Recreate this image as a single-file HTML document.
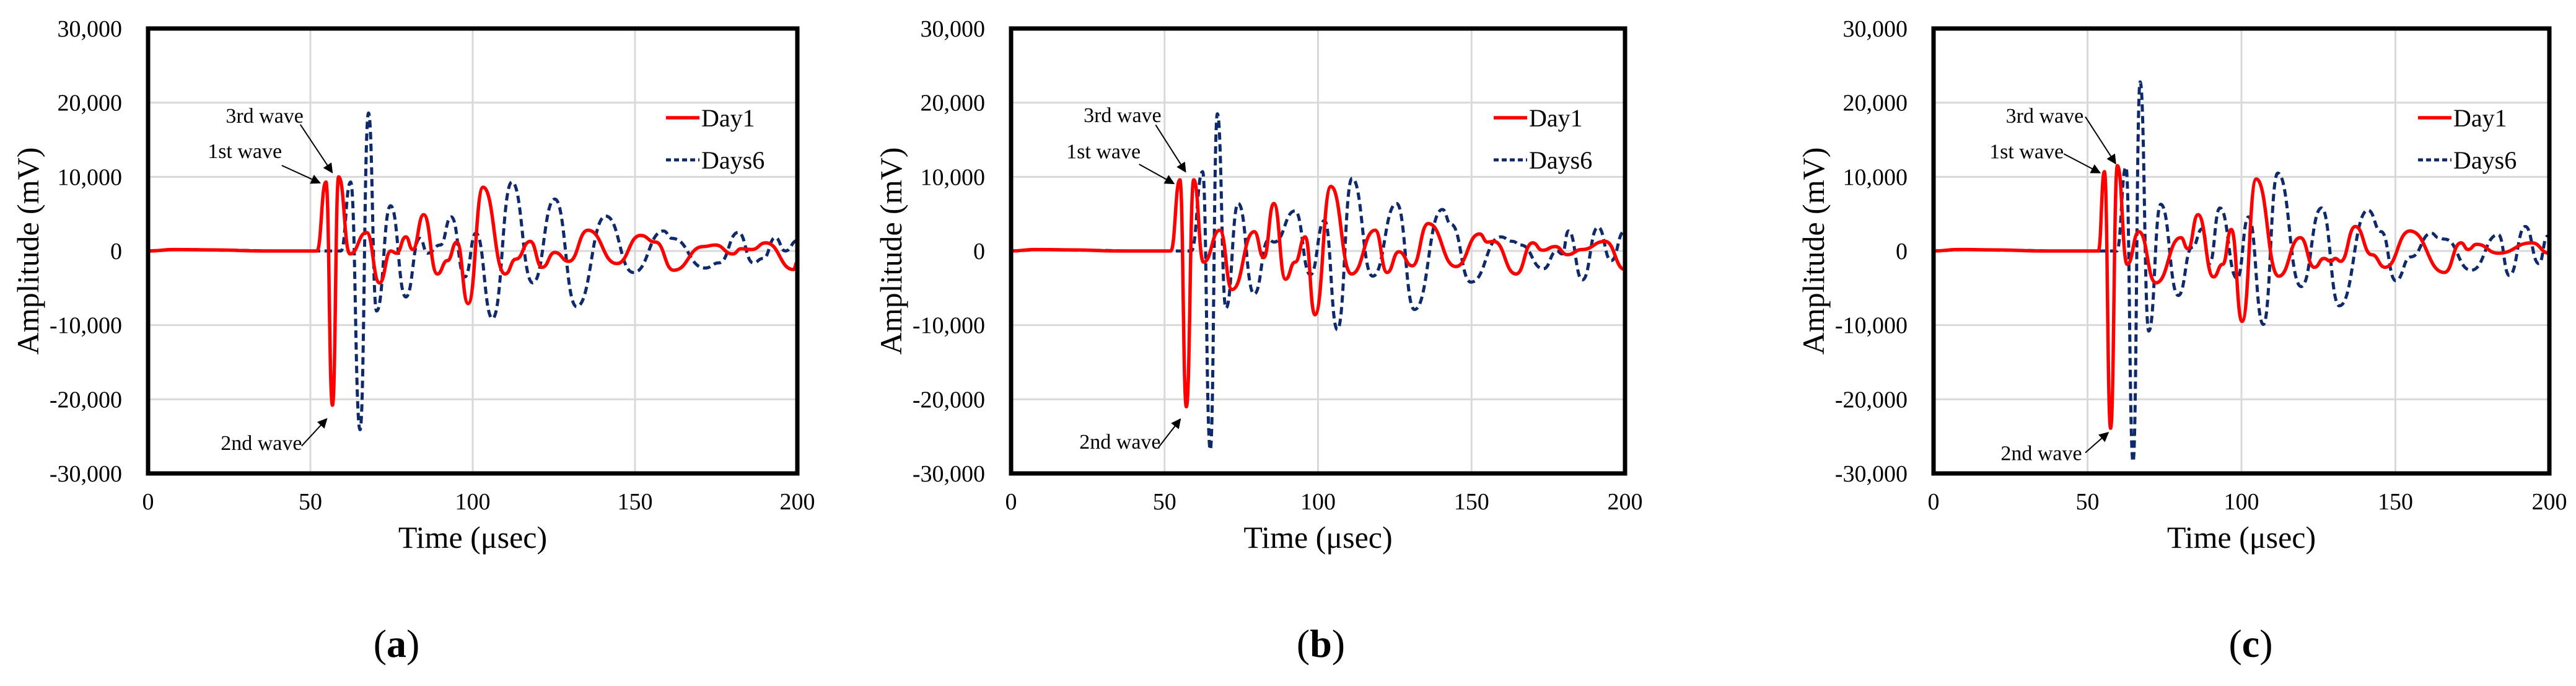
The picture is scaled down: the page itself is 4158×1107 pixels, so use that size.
<!DOCTYPE html>
<html><head><meta charset="utf-8"><style>
html,body{margin:0;padding:0;background:#fff;}
svg{display:block;}
text{font-family:"Liberation Serif",serif;fill:#000;}
</style></head>
<body>
<svg id="fig" width="4158" height="1107" viewBox="0 0 4158 1107" xmlns="http://www.w3.org/2000/svg">
<defs><marker id="ah" markerWidth="8" markerHeight="8" refX="7" refY="4" orient="auto" markerUnits="strokeWidth"><path d="M0,0 L8,4 L0,8 z" fill="#000"/></marker></defs>
</svg>
<script>
// ---- data (extrema) ----
const xTicks = [0, 50, 100, 150, 200];
const yTicks = [-30000, -20000, -10000, 0, 10000, 20000, 30000];
const yTickLabels = ["-30,000", "-20,000", "-10,000", "0", "10,000", "20,000", "30,000"];
const seriesNames = ["Day1", "Days6"];
const panelLabels = ["a", "b", "c"];

const aDay1T = [0,8,20,35,45,52,54.8,56.8,58.7,62.2,67.3,71.3,74.8,76.5,79.4,81.5,84.9,89.1,92.2,95.1,98.6,103.2,110,113.3,117.7,121.4,125.3,129.6,135.5,144.4,151.7,156.3,161.9,171,174.7,180.1,182.7,186,190.3,198.8,200];
const aDay1V = [0,200,150,0,0,0,9300,-20800,10000,-400,2500,-4300,0,-300,1900,200,4900,-3100,-1300,1200,-7100,8600,-3100,-1100,1300,-2200,-200,-1400,2800,-1700,2100,1200,-2600,600,800,-400,300,200,1100,-2500,-1500];
const aDays6T = [0,10,25,40,55,59.4,62.4,65.3,67.9,70.4,74.7,79.4,83.7,86.1,90,93.4,97.6,101,106.1,112.1,118.5,125.3,132,141,149.5,158.8,161.4,171.6,175.9,181.8,186.4,189.5,193.2,196.3,200];
const aDays6V = [0,200,100,0,0,0,9300,-24100,18600,-8100,6100,-6200,1700,-300,800,4600,-3500,2400,-9100,9300,-4300,7000,-7500,4700,-2900,2700,1700,-2300,-1600,2500,-1600,-1000,1800,0,1400];

const bDay1T = [0,8,20,35,45,52,55,57.1,59.5,62.7,68,72,79.2,82.3,85.6,89.4,92.5,95.8,99,104.2,110.9,118.6,122.5,126.3,130.7,135.9,144.9,152.6,155.2,157.2,164.5,169.9,173.1,177.3,181.2,186,193.5,200];
const bDay1V = [0,200,150,0,0,0,9600,-21000,9600,-1500,2800,-5200,2600,-900,6400,-3800,-1500,1900,-8600,8700,-3100,2800,-2900,-100,-2000,3700,-2100,2300,1200,1300,-3100,1100,100,600,-500,200,1300,-2500];
const bDays6T = [0,10,25,40,55,58.7,62.4,64.9,67.2,70,74,79.2,83.9,85.7,92.5,97.5,102.1,106.3,111.1,117.8,125.6,131.4,140.5,143.3,149.8,159.5,163.4,166,173.4,177.8,179.5,181.6,186.1,191.2,195.5,199.7,200];
const bDays6V = [0,200,100,0,0,0,10700,-26800,18500,-7700,6400,-5800,1500,1200,5400,-3200,4100,-10600,9800,-3400,6400,-7900,5600,3600,-4200,1900,1300,800,-2400,0,-400,2700,-3900,3200,-1300,2600,2500];

const cDay1T = [0,8,20,35,45,53.5,55.5,57.5,59.7,62.9,66.7,72.2,80.3,82.6,85.9,90.9,93.9,96.7,100.2,104.8,112.1,119.1,123.7,126.8,129,130.5,132.2,137,142.3,146.7,154.7,165.9,171.3,173.6,176.4,183.4,194.3,200];
const cDay1V = [0,200,150,0,0,0,10700,-23900,11500,-1800,2600,-4300,1800,300,4900,-3500,-1800,2900,-9500,9700,-3400,1800,-2200,-1000,-1400,-1000,-1400,3300,-500,-2200,2700,-2900,1100,200,900,-300,1100,-300];
const cDays6T = [0,10,25,40,55,59.5,62.5,64.8,67.1,69.9,73.8,79.5,84,87.3,89.6,93,98.6,102.3,107.1,111.8,119.4,126,131.8,141.1,145.4,150.1,155,161.7,164,166,174.6,183.4,187,192.2,196.6,199.4,200];
const cDays6V = [0,200,100,0,0,0,11300,-28400,22800,-10800,6300,-6000,500,3000,-1700,5800,-3700,4600,-9900,10500,-4800,5800,-7400,5500,2600,-4000,-800,2400,1800,1600,-2600,2200,-3300,3300,-1700,2000,1800];

// annotation anchors in data units (time, amplitude)
const annA = [[29.8,13450,"1st wave",41.2,11530,52.9,9190],[35.9,18200,"3rd wave",46.9,17050,56.7,10600],[34.9,-25900,"2nd wave",47.3,-26300,55,-22650]];
const annB = [[30.1,13400,"1st wave",41.7,11700,53,9100],[36.3,18300,"3rd wave",47.1,17000,56.8,10700],[35.5,-25750,"2nd wave",48,-26500,55.1,-22700]];
const annC = [[30.2,13400,"1st wave",42.3,13100,54,10550],[36.1,18200,"3rd wave",49.3,18100,59.1,11800],[35,-27300,"2nd wave",49.3,-27200,56.7,-24500]];

const panels = [
  {L:239, R:1287, lab:640, d1T:aDay1T, d1V:aDay1V, d6T:aDays6T, d6V:aDays6V, ann:annA},
  {L:1632, R:2623, lab:2132, d1T:bDay1T, d1V:bDay1V, d6T:bDays6T, d6V:bDays6V, ann:annB},
  {L:3121, R:4115, lab:3633, d1T:cDay1T, d1V:cDay1V, d6T:cDays6T, d6V:cDays6V, ann:annC}
];
const T = 46, B = 764;
const NS = "http://www.w3.org/2000/svg";
const svg = document.getElementById('fig');
function mk(tag, attrs, parent){ const e=document.createElementNS(NS,tag); for(const k in attrs) e.setAttribute(k,attrs[k]); (parent||svg).appendChild(e); return e; }

panels.forEach((p, pi) => {
  const xs = t => p.L + (t - 0) / 200 * (p.R - p.L);
  const ys = v => B - (v + 30000) / 60000 * (B - T);
  const g = mk('g', {});
  
  
  // grid
  xTicks.forEach(t => { if (t>0 && t<200) { const l = mk('line',{x1:xs(t),x2:xs(t),y1:T,y2:B,stroke:'#d9d9d9','stroke-width':3},g);
      } });
  yTicks.forEach(v => { if (v>-30000 && v<30000) { const l = mk('line',{x1:p.L,x2:p.R,y1:ys(v),y2:ys(v),stroke:'#d9d9d9','stroke-width':3},g);
      } });
  // ticks labels
  yTicks.forEach((v,i) => { const tx = mk('text',{x:p.L-42,y:ys(v)+13,'text-anchor':'end','font-size':38},g); tx.textContent=yTickLabels[i];
      });
  xTicks.forEach(t => { const tx = mk('text',{x:xs(t),y:822,'text-anchor':'middle','font-size':38},g); tx.textContent=String(t);
      });
  // series
  function pathFor(tA, vA){ let d='M'+xs(tA[0])+','+ys(vA[0]);
    for(let i=1;i<tA.length;i++){ const x0=xs(tA[i-1]),y0=ys(vA[i-1]),x1=xs(tA[i]),y1=ys(vA[i]),dx=(x1-x0)/2;
      d+=' C'+(x0+dx)+','+y0+' '+(x1-dx)+','+y1+' '+x1+','+y1; } return d; }
  const s6 = mk('path',{d:pathFor(p.d6T,p.d6V),fill:'none',stroke:'#0f2a6b','stroke-width':5,'stroke-dasharray':'12 7'},g);
   
  const s1 = mk('path',{d:pathFor(p.d1T,p.d1V),fill:'none',stroke:'#ff0000','stroke-width':5.5,'stroke-linejoin':'round'},g);
   
  // frame
  const fr = mk('rect',{x:p.L,y:T,width:p.R-p.L,height:B-T,fill:'none',stroke:'#000','stroke-width':7},g);
   
  // annotations
  p.ann.forEach(a => {
    const tx = mk('text',{x:xs(a[0]),y:ys(a[1])+11,'text-anchor':'middle','font-size':34},g); tx.textContent=a[2];
     
    const ar = mk('line',{x1:xs(a[3]),y1:ys(a[4]),x2:xs(a[5]),y2:ys(a[6]),stroke:'#000','stroke-width':2,'marker-end':'url(#ah)'},g);
     
  });
  // legend
  const lg = mk('g',{},g);
   
  const l1 = mk('line',{x1:p.R-212,x2:p.R-158,y1:190,y2:190,stroke:'#ff0000','stroke-width':5.5},lg);
   
  const t1 = mk('text',{x:p.R-155,y:204,'font-size':40},lg); t1.textContent=seriesNames[0];
   
  const l2 = mk('line',{x1:p.R-212,x2:p.R-158,y1:258,y2:258,stroke:'#0f2a6b','stroke-width':5,'stroke-dasharray':'8 5'},lg);
   
  const t2 = mk('text',{x:p.R-155,y:272,'font-size':40},lg); t2.textContent=seriesNames[1];
   
  // axis titles
  const xt = mk('text',{x:(p.L+p.R)/2,y:884,'text-anchor':'middle','font-size':50},g); xt.textContent='Time (μsec)';
   
  const yt = mk('text',{x:0,y:0,'text-anchor':'middle','font-size':50,transform:'translate('+(p.L-177)+','+((T+B)/2)+') rotate(-90)'},g); yt.textContent='Amplitude  (mV)';
   
  // panel label
  const pl = mk('text',{x:p.lab,y:1060,'text-anchor':'middle','font-size':64},g);
  pl.innerHTML = '(<tspan font-weight="bold">'+panelLabels[pi]+'</tspan>)';
   
});
</script>
</body></html>
